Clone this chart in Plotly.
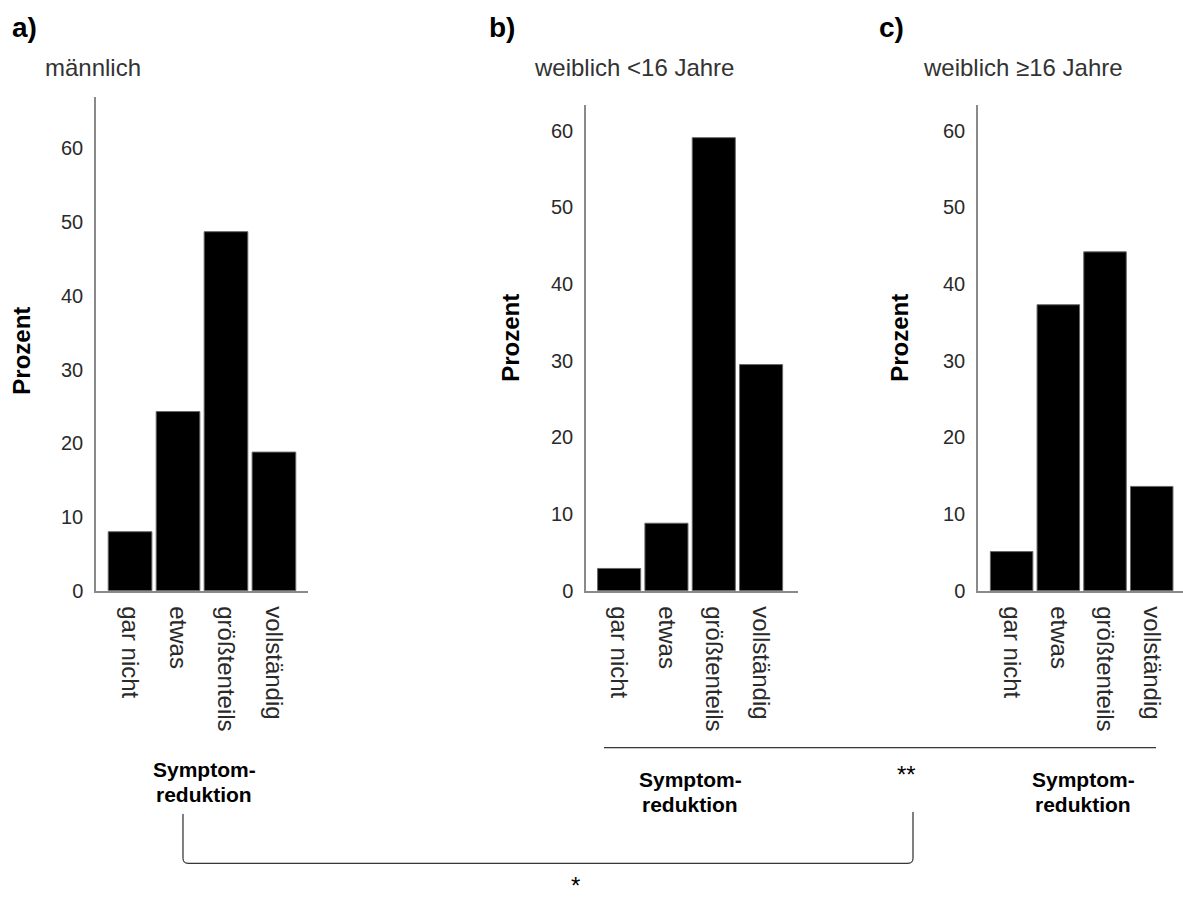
import plotly.graph_objects as go

W, H = 1183, 898

categories = ["gar nicht", "etwas", "größtenteils", "vollständig"]
maennlich = [8.0, 24.3, 48.7, 18.8]
weiblich_u16 = [2.9, 8.8, 59.1, 29.5]
weiblich_ue16 = [5.1, 37.3, 44.2, 13.6]
y_ticks = [0, 10, 20, 30, 40, 50, 60]

panel_titles = ["männlich", "weiblich <16 Jahre", "weiblich ≥16 Jahre"]
panel_letters = ["a)", "b)", "c)"]
y_title = "Prozent"
x_title_lines = ["Symptom-", "reduktion"]
sig_pair_bc = "**"
sig_pair_ab = "*"

FONT = "Liberation Sans, Arial, sans-serif"


def px(x):
    return x / W


def py(y):
    return 1 - y / H


# panel geometry in pixels: (x_left, x_right, y_top, y_bottom, xrange, yrange)
panels = [
    (96, 308, 98, 598, [-0.71, 3.71], [0, 67]),
    (586, 798, 106, 598, [-0.70, 3.78], [0, 63.4]),
    (978, 1183, 106, 598, [-0.72, 3.67], [0, 63.4]),
]
series = [maennlich, weiblich_u16, weiblich_ue16]

fig = go.Figure()
layout = dict(
    width=W, height=H,
    margin=dict(l=0, r=0, t=0, b=0),
    paper_bgcolor="white", plot_bgcolor="white",
    showlegend=False,
    font=dict(family=FONT, color="#222"),
)

for i, (vals, (xl, xr, yt, yb, xr_, yr_)) in enumerate(zip(series, panels)):
    n = "" if i == 0 else str(i + 1)
    fig.add_trace(go.Bar(
        x=categories, y=vals,
        xaxis="x" + n, yaxis="y" + n,
        marker=dict(color="black", line=dict(color="#666", width=1)),
        width=0.91,
        hoverinfo="x+y",
    ))
    layout["xaxis" + n] = dict(
        domain=[px(xl), px(xr)], anchor="y" + n,
        range=xr_, type="category",
        showline=True, linecolor="#8a8a8a", linewidth=1.5,
        showgrid=False, zeroline=False,
        ticks="", tickangle=90,
        ticklabelstandoff=9,
        tickfont=dict(size=24, family=FONT, color="#2a2a2a"),
    )
    layout["yaxis" + n] = dict(
        domain=[py(yb), py(yt)], anchor="x" + n,
        range=yr_, tickvals=y_ticks,
        showline=True, linecolor="#8a8a8a", linewidth=1.5,
        showgrid=False, zeroline=False,
        ticks="", ticklabelstandoff=7,
        tickfont=dict(size=20, family=FONT, color="#2a2a2a"),
    )

fig.update_layout(**layout)

annotations = []
# panel letters
for letter, x in zip(panel_letters, [10, 487, 877]):
    annotations.append(dict(text="<b>%s</b>" % letter, x=px(x), y=py(28),
                            xref="paper", yref="paper", xanchor="left", yanchor="middle",
                            showarrow=False, font=dict(size=28, family=FONT, color="black")))
# panel titles
for t, x in zip(panel_titles, [43, 532, 921]):
    annotations.append(dict(text=t, x=px(x), y=py(68),
                            xref="paper", yref="paper", xanchor="left", yanchor="middle",
                            showarrow=False, font=dict(size=24, family=FONT, color="#333")))
# y titles
for x, y in [(22, 355), (511, 342), (900, 342)]:
    annotations.append(dict(text="<b>%s</b>" % y_title, x=px(x), y=py(y), textangle=-90,
                            xref="paper", yref="paper", xanchor="center", yanchor="middle",
                            showarrow=False, font=dict(size=24, family=FONT, color="black")))
# x titles (two lines, tight spacing)
for x, y in [(204, 779), (690, 789), (1083, 789)]:
    for k, line in enumerate(x_title_lines):
        annotations.append(dict(text="<b>%s</b>" % line, x=px(x), y=py(y + 25 * k),
                                xref="paper", yref="paper", xanchor="center", yanchor="middle",
                                showarrow=False,
                                font=dict(size=21, family=FONT, color="black")))
# significance marks
annotations.append(dict(text=sig_pair_bc, x=px(918), y=py(800), xref="paper", yref="paper",
                        showarrow=False, font=dict(size=24, family=FONT, color="black")))
annotations.append(dict(text=sig_pair_ab, x=px(575), y=py(881), xref="paper", yref="paper",
                        yanchor="top",
                        showarrow=False, font=dict(size=24, family=FONT, color="black")))
fig.update_layout(annotations=annotations)

# brackets
shapes = [
    dict(type="line", xref="paper", yref="paper",
         x0=px(604), x1=px(1156), y0=py(757), y1=py(757),
         line=dict(color="black", width=1)),
    dict(type="path", xref="paper", yref="paper",
         path="M %f,%f L %f,%f Q %f,%f %f,%f L %f,%f Q %f,%f %f,%f L %f,%f" % (
             px(183), py(824), px(183), py(869),
             px(183), py(874), px(188), py(874),
             px(908), py(874),
             px(913), py(874), px(913), py(869),
             px(913), py(822)),
         line=dict(color="black", width=1)),
]
fig.update_layout(shapes=shapes)

fig.write_html("out.html")
